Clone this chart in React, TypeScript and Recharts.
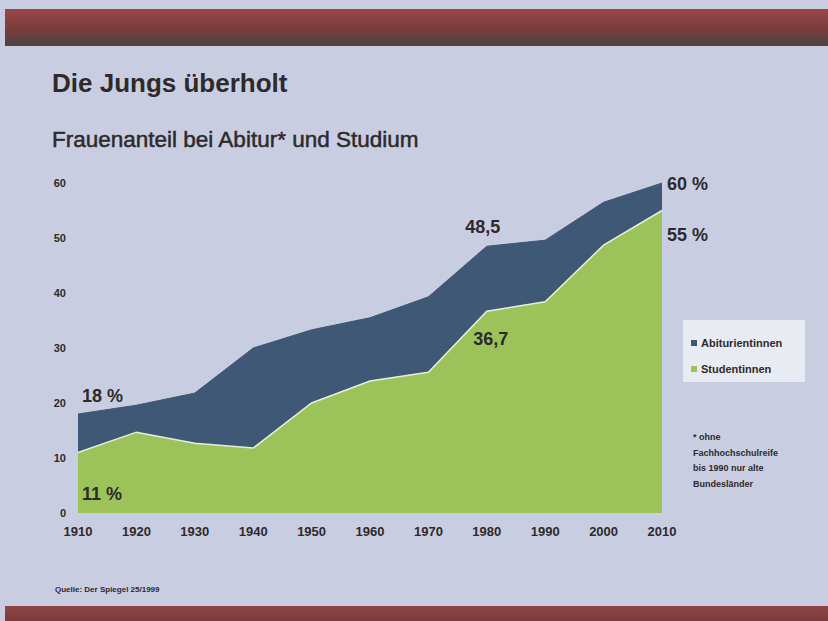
import React from "react";
import { AreaChart, Area, XAxis, YAxis, Legend } from "recharts";

const years = ["1910", "1920", "1930", "1940", "1950", "1960", "1970", "1980", "1990", "2000", "2010"];
const abiturientinnen = [18, 19.6, 21.8, 30, 33.3, 35.5, 39.3, 48.5, 49.6, 56.5, 60];
const studentinnen = [11, 14.7, 12.7, 11.8, 20, 24, 25.6, 36.7, 38.4, 48.7, 55];
const abiLabels = ["18 %", "", "", "", "", "", "", "48,5", "", "", "60 %"];
const studLabels = ["11 %", "", "", "", "", "", "", "36,7", "", "", "55 %"];
const yTicks = [0, 10, 20, 30, 40, 50, 60];

const FONT = '"Liberation Sans", Arial, Helvetica, sans-serif';
const BLUE = "#3f5876";
const GREEN = "#9bc35a";
const BG = "#c9cde2";
const TEXT = "#2e2a2a";

const data = years.map((year, i) => ({
  year,
  abi: abiturientinnen[i],
  stud: studentinnen[i],
}));

// where each annotation sits relative to its point: [dx, dy, anchor]
const abiOffsets: Record<number, [number, number, string]> = {
  0: [4, -12, "start"],
  7: [-4, -13, "middle"],
  10: [5, 7, "start"],
};
const studOffsets: Record<number, [number, number, string]> = {
  0: [4, 47, "start"],
  7: [4, 34, "middle"],
  10: [5, 30, "start"],
};

function makeLabel(texts: string[], offsets: Record<number, [number, number, string]>) {
  return (props: any) => {
    const { x, y, index } = props;
    const text = texts[index];
    if (!text || !offsets[index]) return null;
    const [dx, dy, anchor] = offsets[index];
    return (
      <text
        key={"l" + index}
        x={x + dx}
        y={y + dy}
        textAnchor={anchor as any}
        fontFamily={FONT}
        fontWeight="bold"
        fontSize={18}
        fill={TEXT}
      >
        {text}
      </text>
    );
  };
}

function LegendBox() {
  const items = [
    { name: "Abiturientinnen", color: BLUE },
    { name: "Studentinnen", color: GREEN },
  ];
  return (
    <div
      style={{
        background: "#e9ebf3",
        width: 122,
        height: 62,
        boxSizing: "border-box",
        padding: "10px 0 0 8px",
        fontFamily: FONT,
      }}
    >
      {items.map((it) => (
        <div
          key={it.name}
          style={{ display: "flex", alignItems: "center", height: 26, fontSize: 11, fontWeight: "bold", color: TEXT }}
        >
          <span style={{ width: 6, height: 6, background: it.color, marginRight: 4, display: "inline-block" }} />
          {it.name}
        </div>
      ))}
    </div>
  );
}

export default function App() {
  return (
    <div
      style={{
        position: "fixed",
        left: 0,
        top: 0,
        width: 828,
        height: 621,
        background: BG,
        overflow: "hidden",
        fontFamily: FONT,
      }}
    >
      <div
        style={{
          position: "absolute",
          left: 5,
          top: 9,
          width: 823,
          height: 37,
          background: "linear-gradient(#9a4646, #7a3c3c 55%, #4b4444)",
        }}
      />
      <div
        style={{
          position: "absolute",
          left: 5,
          top: 606,
          width: 823,
          height: 15,
          background: "linear-gradient(#8e4444, #7c3a3a)",
        }}
      />
      <div style={{ position: "absolute", left: 52, top: 68, fontSize: 26, fontWeight: "bold", color: TEXT }}>
        Die Jungs überholt
      </div>
      <div
        style={{
          position: "absolute",
          left: 52,
          top: 127,
          fontSize: 22.5,
          color: TEXT,
          WebkitTextStroke: "0.5px " + TEXT,
        }}
      >
        Frauenanteil bei Abitur* und Studium
      </div>

      <div style={{ position: "absolute", left: 0, top: 0 }}>
        <AreaChart width={828} height={621} data={data} margin={{ top: 183, right: 166, bottom: 78, left: 48 }}>
          <XAxis
            dataKey="year"
            axisLine={false}
            tickLine={false}
            tickSize={0}
            tickMargin={14}
            height={30}
            interval={0}
            tick={{ fontFamily: FONT, fontSize: 13, fontWeight: "bold", fill: TEXT }}
          />
          <YAxis
            domain={[0, 60]}
            ticks={yTicks}
            width={30}
            axisLine={false}
            tickLine={false}
            tickSize={0}
            tickMargin={12}
            tick={{ fontFamily: FONT, fontSize: 11, fontWeight: "bold", fill: TEXT }}
          />
          <Legend
            layout="vertical"
            align="center"
            verticalAlign="middle"
            wrapperStyle={{ position: "absolute", left: 683, top: 320, width: 122 }}
            content={() => <LegendBox />}
          />
          <Area
            type="linear"
            dataKey="abi"
            name="Abiturientinnen"
            stroke={BLUE}
            strokeWidth={1}
            fill={BLUE}
            fillOpacity={1}
            isAnimationActive={false}
            label={makeLabel(abiLabels, abiOffsets)}
          />
          <Area
            type="linear"
            dataKey="stud"
            name="Studentinnen"
            stroke="#e8eedc"
            strokeWidth={1.5}
            fill={GREEN}
            fillOpacity={1}
            isAnimationActive={false}
            label={makeLabel(studLabels, studOffsets)}
          />
        </AreaChart>
      </div>

      <div
        style={{
          position: "absolute",
          left: 693,
          top: 430,
          fontSize: 9,
          lineHeight: "15.5px",
          fontWeight: "bold",
          color: TEXT,
        }}
      >
        * ohne
        <br />
        Fachhochschulreife
        <br />
        bis 1990 nur alte
        <br />
        Bundesländer
      </div>
      <div style={{ position: "absolute", left: 55, top: 585, fontSize: 8, fontWeight: "bold", color: TEXT }}>
        Quelle: Der Spiegel 25/1999
      </div>
    </div>
  );
}
